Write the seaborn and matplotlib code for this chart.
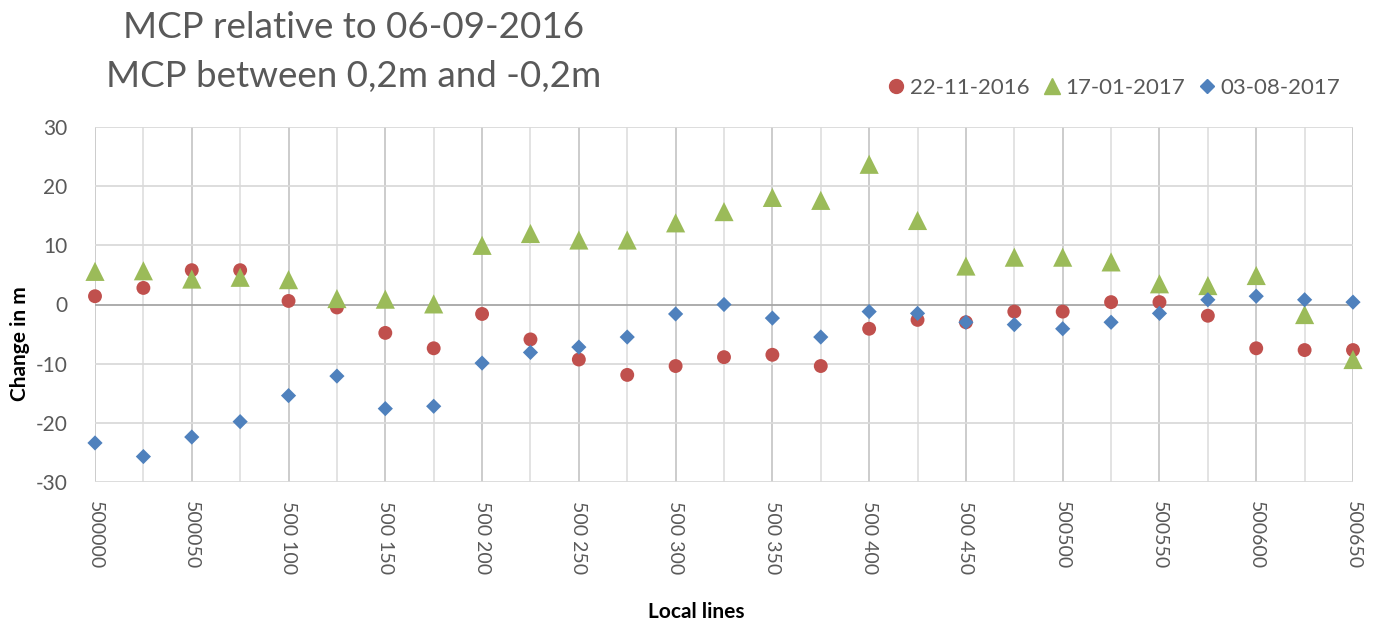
import matplotlib
matplotlib.use("Agg")
import matplotlib.pyplot as plt
import seaborn as sns
import pandas as pd
from matplotlib.lines import Line2D

# Survey line positions (every 25 m)
lines = [500000, 500025, 500050, 500075, 500100, 500125, 500150, 500175, 500200,
         500225, 500250, 500275, 500300, 500325, 500350, 500375, 500400, 500425,
         500450, 500475, 500500, 500525, 500550, 500575, 500600, 500625, 500650]

# Change of the MCP position (m) relative to 06-09-2016
change_2016_11_22 = [1.4, 2.8, 5.8, 5.8, 0.6, -0.5, -4.8, -7.4, -1.6, -5.9, -9.3, -11.9,
                     -10.4, -8.9, -8.5, -10.4, -4.1, -2.6, -3.0, -1.2, -1.2, 0.4, 0.4,
                     -1.9, -7.4, -7.7, -7.7]
change_2017_01_17 = [5.6, 5.7, 4.3, 4.6, 4.2, 1.0, 0.9, 0.1, 10.0, 12.0, 10.9, 10.9,
                     13.8, 15.7, 18.1, 17.6, 23.7, 14.2, 6.5, 8.0, 8.0, 7.2, 3.5, 3.2,
                     4.9, -1.7, -9.3]
change_2017_08_03 = [-23.4, -25.7, -22.4, -19.8, -15.4, -12.1, -17.6, -17.2, -9.9, -8.1,
                     -7.2, -5.5, -1.6, 0.0, -2.3, -5.5, -1.2, -1.5, -3.0, -3.4, -4.1,
                     -3.0, -1.5, 0.8, 1.4, 0.8, 0.4]

series_names = ["22-11-2016", "17-01-2017", "03-08-2017"]
tick_values = [500000, 500050, 500100, 500150, 500200, 500250, 500300, 500350,
               500400, 500450, 500500, 500550, 500600, 500650]
tick_labels = ["500000", "500050", "500 100", "500 150", "500 200", "500 250",
               "500 300", "500 350", "500 400", "500 450", "500500", "500550",
               "500600", "500650"]
y_ticks = [-30, -20, -10, 0, 10, 20, 30]

sns.set_theme(style="white")
plt.rcParams["font.family"] = ["Lato", "DejaVu Sans"]

colors = ["#C0504D", "#9BBB59", "#4F81BD"]
markers = ["o", "^", "D"]
sizes = [100, 190, 60]

fig = plt.figure(figsize=(13.74, 6.25), dpi=100)
ax = fig.add_axes([95 / 1374, 1 - 482 / 625, (1353 - 95) / 1374, (482 - 127) / 625])

# Grid: light lines every 25 m / 10 m, slightly darker at labelled lines, darker zero line
for x in lines:
    major = x in tick_values
    ax.axvline(x, color="#C4C4C4" if major else "#DEDEDE", lw=1.2, zorder=0)
for y in y_ticks:
    ax.axhline(y, color="#A6A6A6" if y == 0 else "#DADADA", lw=1.3, zorder=0.5)

for name, vals, c, m, s in zip(series_names,
                               [change_2016_11_22, change_2017_01_17, change_2017_08_03],
                               colors, markers, sizes):
    df = pd.DataFrame({"line": lines, "change": vals})
    sns.scatterplot(data=df, x="line", y="change", ax=ax, color=c, marker=m, s=s,
                    edgecolor="none", linewidth=0, clip_on=False, zorder=3, legend=False)

ax.set_xlim(500000, 500650)
ax.set_ylim(-30, 30)
ax.set_xticks(tick_values)
ax.set_xticklabels(tick_labels, rotation=270, ha="center", va="top",
                   fontsize=14, color="#595959")
ax.set_yticks(y_ticks)
ax.set_yticklabels([str(v) for v in y_ticks], fontsize=15, color="#595959")
ax.tick_params(axis="both", length=0)
ax.tick_params(axis="x", pad=14)
ax.tick_params(axis="y", pad=20)
ax.set_xlabel("")
ax.set_ylabel("")
for sp in ax.spines.values():
    sp.set_visible(False)

fig.text(696 / 1374, 1 - 612 / 625, "Local lines", ha="center", va="center",
         fontsize=15, fontweight="bold", color="black")
fig.text(20 / 1374, 1 - 344 / 625, "Change in m", ha="center", va="center",
         rotation=90, fontsize=15, fontweight="bold", color="black")

fig.text(354 / 1374, 1 - 28 / 625, "MCP relative to 06-09-2016", ha="center",
         va="center", fontsize=26.5, color="#595959")
fig.text(354 / 1374, 1 - 76 / 625, "MCP between 0,2m and -0,2m", ha="center",
         va="center", fontsize=26.5, color="#595959")

handles = [Line2D([], [], ls="none", marker=m, color=c, markersize=ms)
           for c, m, ms in zip(colors, markers, [10, 12, 7])]
fig.legend(handles, series_names, loc="center right", ncol=3, frameon=False,
           bbox_to_anchor=(1360 / 1374, 1 - 88 / 625), fontsize=16,
           handletextpad=0.1, columnspacing=0.5, handlelength=1.0,
           labelcolor="#595959")

fig.savefig("out.png", dpi=100)
